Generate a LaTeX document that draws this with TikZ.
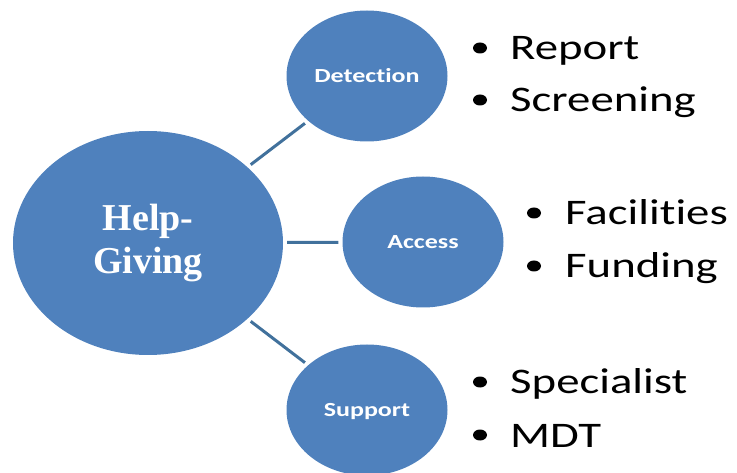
\documentclass[tikz,border=0pt]{standalone}
\usepackage{fontspec}
\setmainfont{Liberation Serif}
\newfontfamily\calib[Ligatures=NoCommon]{Carlito}
\usetikzlibrary{shapes.geometric}
\definecolor{hubblue}{HTML}{4F81BD}
\definecolor{linkblue}{HTML}{41719C}
\tikzset{
  hub/.style={ellipse, fill=hubblue, inner sep=0pt, text=white,
    minimum width=270pt, minimum height=224pt, align=center,
    font=\bfseries\fontsize{38}{43}\selectfont},
  topic/.style={ellipse, fill=hubblue, inner sep=0pt, text=white,
    minimum width=161pt, minimum height=131pt,
    text height=12.5pt, text depth=0pt,
    font=\calib\bfseries\fontsize{20}{24}\selectfont},
  link/.style={draw=linkblue, line width=3pt, shorten <=4pt, shorten >=4pt},
  item/.style={anchor=base west, inner sep=0pt,
    font=\calib\fontsize{36}{40}\selectfont},
  dot/.style={ellipse, fill=black, inner sep=0pt,
    minimum width=14pt, minimum height=11pt}
}
\newcommand{\wide}[1]{\scalebox{1.3}[1]{#1}}
\begin{document}
\begin{tikzpicture}[x=1pt,y=-1pt]
  \useasboundingbox (0,0) rectangle (737,473);

  % central circle and the three topics
  \node[hub] (help) at (148,243) {Help-\\Giving};
  \node[topic] (det) at (367,76) {\wide{Detection}};
  \node[topic] (acc) at (423,242) {\wide{Access}};
  \node[topic] (sup) at (367,410) {\wide{Support}};

  % connectors
  \draw[link] (help) -- (det);
  \draw[link] (help) -- (acc);
  \draw[link] (help) -- (sup);

  % bullet lists
  \node[dot] (b1) at (480,48) {};
  \node[item] (t1) at (510,60) {\wide{Report}};
  \node[dot] (b2) at (480,100) {};
  \node[item] (t2) at (510,112) {\wide{Screening}};

  \node[dot] (b3) at (534,213) {};
  \node[item] (t3) at (565,225) {\wide{Facilities}};
  \node[dot] (b4) at (534,266) {};
  \node[item] (t4) at (565,278) {\wide{Funding}};

  \node[dot] (b5) at (480,382) {};
  \node[item] (t5) at (510,393) {\wide{Specialist}};
  \node[dot] (b6) at (480,435) {};
  \node[item] (t6) at (510,447) {\wide{MDT}};
\end{tikzpicture}
\end{document}
